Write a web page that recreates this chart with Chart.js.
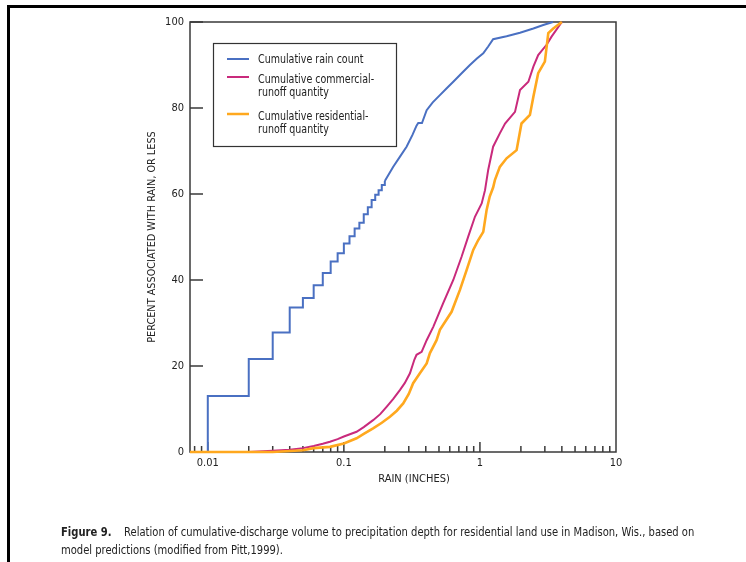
<!DOCTYPE html>
<html>
<head>
<meta charset="utf-8">
<script src="https://cdn.jsdelivr.net/npm/chart.js@4.4.1/dist/chart.umd.min.js"></script>
<style>
html,body{margin:0;padding:0;background:#fff;}
#wrap{position:relative;width:746px;height:562px;overflow:hidden;background:#fff;}
#c{position:absolute;left:0;top:0;}
.topbar{position:absolute;left:7px;top:5px;width:739px;height:3px;background:#000;}
.leftbar{position:absolute;left:7px;top:5px;width:3px;height:557px;background:#000;}
.caption{position:absolute;left:61px;top:523px;font-family:"Liberation Sans Narrow","DejaVu Sans Condensed","Liberation Sans",sans-serif;font-size:12px;color:#222;line-height:18px;white-space:nowrap;transform:scaleX(0.925);transform-origin:0 0;}
.caption b{font-weight:bold;}
</style>
</head>
<body>
<div id="wrap">
  <canvas id="c" width="746" height="562"></canvas>
  <div class="topbar"></div>
  <div class="leftbar"></div>
  <div class="caption"><b>Figure 9.</b>&nbsp;&nbsp;&nbsp; Relation of cumulative-discharge volume to precipitation depth for residential land use in Madison, Wis., based on<br>model predictions (modified from Pitt,1999).</div>
</div>
<script>
// ---------------- DATA ----------------
// Cumulative rain count: stepped part (rain depth in inches, percent)
const rainStepX = [0.01, 0.01, 0.02, 0.03, 0.04, 0.05, 0.06, 0.07, 0.08, 0.09, 0.10, 0.11, 0.12, 0.13, 0.14, 0.15, 0.16, 0.17, 0.18, 0.19, 0.20];
const rainStepY = [0, 13.0, 21.6, 27.8, 33.6, 35.8, 38.8, 41.6, 44.3, 46.2, 48.5, 50.2, 52.0, 53.3, 55.3, 56.9, 58.6, 59.8, 60.9, 62.1, 63.0];
// Cumulative rain count: upper part
const rainX = [0.20, 0.23, 0.26, 0.289, 0.32, 0.342, 0.352, 0.375, 0.406, 0.45, 0.508, 0.57, 0.637, 0.74, 0.844, 0.95, 1.058, 1.15, 1.25, 1.57, 1.97, 2.47, 2.92, 3.44];
const rainY = [63.0, 66.3, 68.8, 71.0, 73.8, 75.9, 76.5, 76.5, 79.5, 81.3, 83.0, 84.6, 86.1, 88.2, 90.0, 91.5, 92.7, 94.3, 96.0, 96.7, 97.5, 98.5, 99.3, 100];
// Cumulative commercial-runoff quantity
const commX = [0.0074, 0.02, 0.03, 0.04, 0.05, 0.06, 0.07, 0.079, 0.09, 0.10, 0.124, 0.14, 0.164, 0.185, 0.206, 0.23, 0.258, 0.28, 0.306, 0.33, 0.342, 0.373, 0.406, 0.454, 0.537, 0.637, 0.733, 0.82, 0.919, 1.03, 1.09, 1.15, 1.25, 1.40, 1.53, 1.81, 1.97, 2.27, 2.47, 2.68, 3.09, 3.36, 4.0];
const commY = [0, 0, 0.3, 0.5, 0.9, 1.4, 1.9, 2.4, 3.0, 3.6, 4.7, 5.8, 7.4, 8.8, 10.5, 12.3, 14.4, 16.0, 18.3, 21.5, 22.6, 23.3, 26.0, 29.1, 34.6, 40.0, 45.4, 50.1, 54.7, 57.8, 60.9, 65.6, 71.0, 74.1, 76.4, 79.1, 84.2, 86.1, 89.6, 92.3, 94.7, 96.6, 100];
// Cumulative residential-runoff quantity
const resX = [0.0074, 0.03, 0.05, 0.06, 0.079, 0.10, 0.124, 0.14, 0.164, 0.19, 0.218, 0.245, 0.273, 0.30, 0.323, 0.362, 0.406, 0.429, 0.48, 0.508, 0.619, 0.713, 0.798, 0.893, 0.972, 1.058, 1.12, 1.18, 1.25, 1.29, 1.40, 1.57, 1.86, 2.02, 2.33, 2.47, 2.68, 3.0, 3.18, 3.46, 4.0];
const resY = [0, 0, 0.4, 0.9, 1.2, 2.0, 3.2, 4.2, 5.5, 6.8, 8.2, 9.6, 11.3, 13.5, 16.0, 18.3, 20.6, 23.0, 26.0, 28.4, 32.6, 37.7, 42.3, 47.0, 49.3, 51.2, 56.3, 59.4, 61.5, 63.3, 66.3, 68.3, 70.2, 76.4, 78.4, 82.6, 88.1, 90.8, 97.4, 98.5, 100];

const legendLabels = [
  ['Cumulative rain count'],
  ['Cumulative commercial-', 'runoff quantity'],
  ['Cumulative residential-', 'runoff quantity']
];
const xMajorLabels = [0.01, 0.1, 1, 10];
const yTickValues = [0, 20, 40, 60, 80, 100];
const xTitle = 'RAIN (INCHES)';
const yTitle = 'PERCENT ASSOCIATED WITH RAIN, OR LESS';

// ---------------- STYLE ----------------
const FONT = '"Liberation Sans Narrow","DejaVu Sans Condensed","Liberation Sans",sans-serif';
const BLUE = '#4a70c2';
const MAGENTA = '#c92a7c';
const ORANGE = '#ffa81e';
const AXIS = '#3a3a3a';
const TEXT = '#222';

const pts = (xs, ys) => xs.map((x, i) => ({x: x, y: ys[i]}));
const isDecade = v => Math.abs(Math.log10(v) - Math.round(Math.log10(v))) < 1e-6;

// minor/major tick values for the log axis
const xTickValues = [];
[0.001, 0.01, 0.1, 1].forEach(d => {
  for (let m = 1; m <= 9; m++) {
    const v = +(m * d).toPrecision(6);
    if (v >= 0.0074 && v <= 10) xTickValues.push(v);
  }
});
xTickValues.push(10);

const framePlugin = {
  id: 'frame',
  beforeDatasetsDraw(chart) {
    const {ctx, chartArea: a, scales} = chart;
    ctx.save();
    ctx.strokeStyle = AXIS;
    ctx.lineWidth = 1.5;
    ctx.strokeRect(a.left, a.top, a.right - a.left, a.bottom - a.top);
    ctx.beginPath();
    scales.x.ticks.forEach(t => {
      if (t.value >= 10) return;
      const px = scales.x.getPixelForValue(t.value);
      const len = isDecade(t.value) ? 10 : 6;
      ctx.moveTo(px, a.bottom);
      ctx.lineTo(px, a.bottom - len);
    });
    scales.y.ticks.forEach(t => {
      const py = scales.y.getPixelForValue(t.value);
      ctx.moveTo(a.left, py);
      ctx.lineTo(a.left + 13, py);
    });
    ctx.stroke();
    ctx.restore();
  }
};

const legendPlugin = {
  id: 'boxLegend',
  afterDraw(chart) {
    const {ctx, chartArea: a} = chart;
    const bx = a.left + 23, by = a.top + 21, bw = 183, bh = 103;
    ctx.save();
    ctx.fillStyle = '#fff';
    ctx.fillRect(bx, by, bw, bh);
    ctx.strokeStyle = '#333';
    ctx.lineWidth = 1.2;
    ctx.strokeRect(bx + 0.5, by + 0.5, bw, bh);
    const colors = [BLUE, MAGENTA, ORANGE];
    const lineYs = [16, 34, 71];
    const textYs = [[17], [37, 50], [74, 87]];
    ctx.font = '12px ' + FONT;
    ctx.textBaseline = 'middle';
    ctx.textAlign = 'left';
    legendLabels.forEach((lines, i) => {
      ctx.strokeStyle = colors[i];
      ctx.lineWidth = i === 2 ? 2.5 : 2;
      ctx.beginPath();
      ctx.moveTo(bx + 14, by + lineYs[i]);
      ctx.lineTo(bx + 36, by + lineYs[i]);
      ctx.stroke();
      ctx.fillStyle = TEXT;
      lines.forEach((s, j) => {
        ctx.save();
        ctx.translate(bx + 45, by + textYs[i][j]);
        ctx.scale(0.88, 1);
        ctx.fillText(s, 0, 0);
        ctx.restore();
      });
    });
    ctx.restore();
  }
};

const common = {showLine: true, pointRadius: 0, pointHoverRadius: 0, fill: false, clip: 4, tension: 0};

new Chart(document.getElementById('c'), {
  type: 'scatter',
  data: {
    datasets: [
      Object.assign({label: legendLabels[2].join(' '), data: pts(resX, resY), borderColor: ORANGE, borderWidth: 2.6, order: 1}, common),
      Object.assign({label: legendLabels[1].join(' '), data: pts(commX, commY), borderColor: MAGENTA, borderWidth: 2, order: 2}, common),
      Object.assign({label: legendLabels[0][0], data: pts(rainStepX, rainStepY), borderColor: BLUE, borderWidth: 2, stepped: 'before', order: 3}, common),
      Object.assign({label: legendLabels[0][0] + ' (upper)', data: pts(rainX, rainY), borderColor: BLUE, borderWidth: 2, order: 3}, common)
    ]
  },
  options: {
    responsive: false,
    animation: false,
    devicePixelRatio: 1,
    layout: {padding: {left: 0, right: 130, top: 22, bottom: 0}},
    plugins: {legend: {display: false}, tooltip: {enabled: false}},
    scales: {
      x: {
        type: 'logarithmic',
        min: 0.0074,
        max: 10,
        afterFit(s) { s.height = 110; },
        afterBuildTicks(s) { s.ticks = xTickValues.map(v => ({value: v})); },
        grid: {display: false, drawTicks: false},
        border: {display: false},
        ticks: {
          autoSkip: false, maxRotation: 0, minRotation: 0, padding: 5,
          color: TEXT, font: {family: FONT, size: 11},
          callback: v => (xMajorLabels.some(m => Math.abs(m - v) < 1e-9) ? String(v) : '')
        },
        title: {display: true, text: '\u00a0\u00a0\u00a0\u00a0\u00a0\u00a0\u00a0' + xTitle, color: TEXT, font: {family: FONT, size: 11}, padding: {top: 0, bottom: 76}}
      },
      y: {
        type: 'linear',
        min: 0,
        max: 100,
        afterFit(s) { s.width = 190; },
        afterBuildTicks(s) { s.ticks = yTickValues.map(v => ({value: v})); },
        grid: {display: false, drawTicks: false},
        border: {display: false},
        ticks: {padding: 6, color: TEXT, font: {family: FONT, size: 11}},
        title: {display: true, text: yTitle, color: TEXT, font: {family: FONT, size: 10.8}, padding: {top: 146, bottom: 0}}
      }
    }
  },
  plugins: [framePlugin, legendPlugin]
});
</script>
</body>
</html>
